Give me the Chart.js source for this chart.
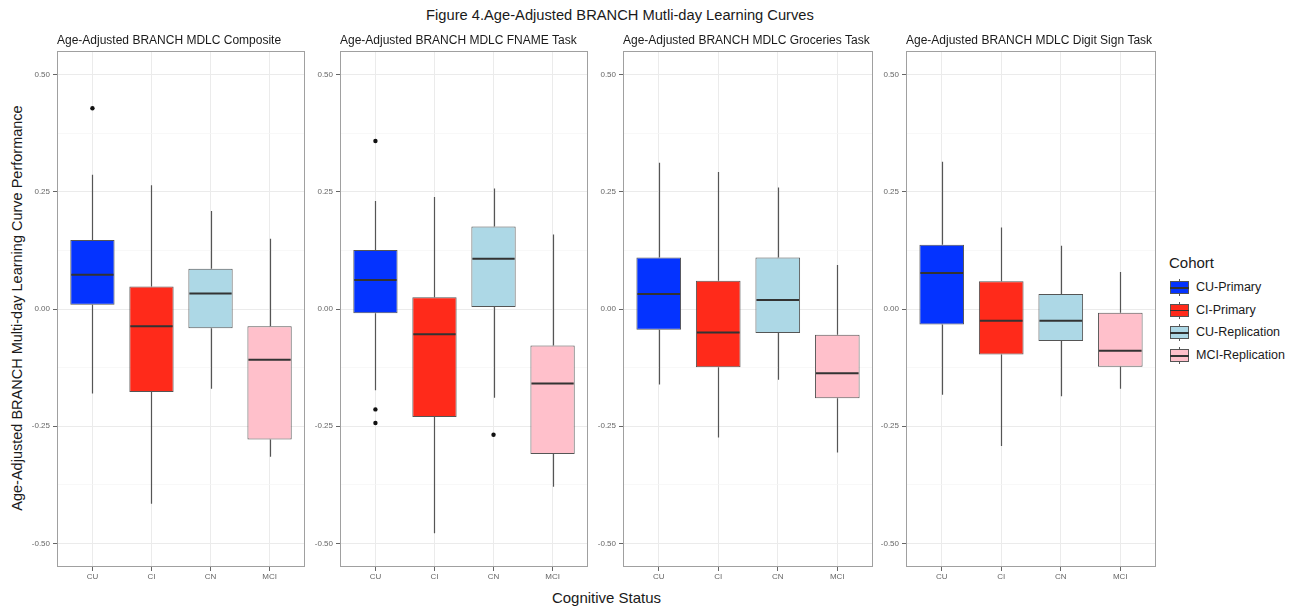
<!DOCTYPE html>
<html>
<head>
<meta charset="utf-8">
<script src="https://cdn.jsdelivr.net/npm/chart.js@4"></script>
<style>
  body { margin: 0; background: #fff; font-family: "Liberation Sans", Arial, sans-serif; }
  #page { position: relative; width: 1293px; height: 607px; overflow: hidden; }
  .panel { position: absolute; top: 30px; }
  .txt { position: absolute; color: #1a1a1a; white-space: nowrap; }
  #title { left: 0; width: 1240px; top: 7px; text-align: center; font-size: 14.7px; }
  #xtitle { left: 57px; width: 1099px; top: 589px; text-align: center; font-size: 15px; }
  #ytitle { left: 17px; top: 308px; font-size: 14.5px; transform: translate(-50%, -50%) rotate(-90deg); }
  #legend { position: absolute; left: 1169px; top: 254px; }
  #legend .head { font-size: 15px; color: #1a1a1a; margin-bottom: 6px; white-space: nowrap; }
  #legend .item { position: relative; height: 22.7px; width: 125px; font-size: 12.5px; color: #1a1a1a; }
  #legend .key { position: absolute; left: 1px; top: 2px; width: 19px; height: 17px; }
  #legend .key .box { position: absolute; left: 0; top: 2px; width: 17px; height: 11px; border: 1px solid #555; }
  #legend .key .mid { position: absolute; left: 0; top: 8px; width: 19px; height: 1.5px; background: #333; }
  #legend .key .wh { position: absolute; left: 9px; top: 0; width: 1px; height: 17px; background: #555; }
  #legend .lab { position: absolute; left: 27px; top: 3px; white-space: nowrap; }
</style>
</head>
<body>
<div id="page">
  <div id="title" class="txt">Figure 4.Age-Adjusted BRANCH Mutli-day Learning Curves</div>
  <div id="ytitle" class="txt">Age-Adjusted BRANCH Multi-day Learning Curve Performance</div>
  <div id="xtitle" class="txt">Cognitive Status</div>
  <div id="legend"></div>
</div>
<script>
const panelTitles = [
  'Age-Adjusted BRANCH MDLC Composite',
  'Age-Adjusted BRANCH MDLC FNAME Task',
  'Age-Adjusted BRANCH MDLC Groceries Task',
  'Age-Adjusted BRANCH MDLC Digit Sign Task'
];
const groups = ['CU', 'CI', 'CN', 'MCI'];
const cohorts = ['CU-Primary', 'CI-Primary', 'CU-Replication', 'MCI-Replication'];
const cohortColors = ['#0433ff', '#ff2a1a', '#add8e6', '#ffc0cb'];
const yTicks = [-0.5, -0.25, 0, 0.25, 0.5];

// one row per panel, one column per group
const whiskerHigh = [
  [0.286, 0.264, 0.209, 0.150],
  [0.230, 0.239, 0.257, 0.159],
  [0.312, 0.292, 0.259, 0.094],
  [0.314, 0.174, 0.135, 0.079]
];
const q3 = [
  [0.147, 0.048, 0.086, -0.037],
  [0.126, 0.025, 0.176, -0.078],
  [0.110, 0.060, 0.110, -0.055],
  [0.137, 0.059, 0.032, -0.008]
];
const medians = [
  [0.073, -0.037, 0.033, -0.108],
  [0.062, -0.054, 0.107, -0.159],
  [0.032, -0.050, 0.019, -0.137],
  [0.077, -0.025, -0.025, -0.089]
];
const q1 = [
  [0.009, -0.177, -0.041, -0.278],
  [-0.009, -0.230, 0.004, -0.309],
  [-0.044, -0.124, -0.051, -0.190],
  [-0.033, -0.097, -0.068, -0.123]
];
const whiskerLow = [
  [-0.180, -0.415, -0.170, -0.315],
  [-0.173, -0.478, -0.189, -0.379],
  [-0.161, -0.274, -0.151, -0.306],
  [-0.183, -0.292, -0.186, -0.170]
];
// [group index, value]
const outliers = [
  [[0, 0.428]],
  [[0, 0.358], [0, -0.214], [0, -0.243], [2, -0.268]],
  [],
  []
];

Chart.defaults.font.family = '"Liberation Sans", Arial, sans-serif';

const panelLeft = [57, 340, 623, 906];
const axisW = 45;

// whiskers behind the boxes, medians on top, then the panel frame
const boxParts = {
  id: 'boxParts',
  beforeDatasetsDraw(chart, args, opts) {
    const p = opts.panel, x = chart.scales.x, y = chart.scales.y, ctx = chart.ctx;
    ctx.save();
    ctx.strokeStyle = '#555';
    ctx.lineWidth = 1.2;
    groups.forEach((g, i) => {
      const px = Math.round(x.getPixelForValue(i + 1)) + 0.5;
      ctx.beginPath();
      ctx.moveTo(px, y.getPixelForValue(whiskerHigh[p][i]));
      ctx.lineTo(px, y.getPixelForValue(q3[p][i]));
      ctx.moveTo(px, y.getPixelForValue(q1[p][i]));
      ctx.lineTo(px, y.getPixelForValue(whiskerLow[p][i]));
      ctx.stroke();
    });
    ctx.restore();
  },
  afterDatasetsDraw(chart, args, opts) {
    const p = opts.panel, y = chart.scales.y, ctx = chart.ctx;
    const bars = chart.getDatasetMeta(0).data;
    ctx.save();
    ctx.strokeStyle = '#333';
    ctx.lineWidth = 2;
    bars.forEach((el, i) => {
      const py = y.getPixelForValue(medians[p][i]);
      ctx.beginPath();
      ctx.moveTo(el.x - el.width / 2 + 1, py);
      ctx.lineTo(el.x + el.width / 2 - 1, py);
      ctx.stroke();
    });
    ctx.restore();
  },
  afterDraw(chart) {
    const a = chart.chartArea, ctx = chart.ctx;
    ctx.save();
    ctx.strokeStyle = '#a0a0a0';
    ctx.lineWidth = 1;
    ctx.strokeRect(Math.round(a.left) + 0.5, Math.round(a.top) + 0.5,
      Math.round(a.right - a.left) - 1, Math.round(a.bottom - a.top) - 1);
    ctx.restore();
  }
};

function makePanel(p) {
  const wrap = document.createElement('div');
  wrap.className = 'panel';
  wrap.style.left = (panelLeft[p] - axisW) + 'px';
  const canvas = document.createElement('canvas');
  canvas.width = axisW + 250 + 2;
  canvas.height = 557;
  wrap.appendChild(canvas);
  document.getElementById('page').appendChild(wrap);

  const minorTicks = yTicks.slice(1).map((v, i) => (v + yTicks[i]) / 2);
  const allTicks = yTicks.concat(minorTicks).sort((a, b) => a - b);
  const isMajor = v => yTicks.some(t => Math.abs(t - v) < 1e-9);

  new Chart(canvas, {
    type: 'bar',
    data: {
      datasets: [{
        data: groups.map((g, i) => ({ x: i + 1, y: [q1[p][i], q3[p][i]] })),
        backgroundColor: cohortColors,
        borderColor: '#555',
        borderWidth: 1,
        borderSkipped: false,
        barPercentage: 0.75,
        categoryPercentage: 1
      }, {
        type: 'scatter',
        data: outliers[p].map(o => ({ x: o[0] + 1, y: o[1] })),
        backgroundColor: '#111',
        borderWidth: 0,
        pointRadius: 2.2
      }]
    },
    options: {
      responsive: false,
      animation: false,
      layout: { padding: { left: 0, right: 2, top: 0, bottom: 0 } },
      plugins: {
        legend: { display: false },
        tooltip: { enabled: false },
        title: {
          display: true,
          text: panelTitles[p],
          align: 'start',
          fullSize: false,
          color: '#1a1a1a',
          font: { size: 12, weight: 'normal' },
          padding: { top: 3, bottom: 3.6 }
        },
        boxParts: { panel: p }
      },
      scales: {
        x: {
          type: 'linear',
          min: 0.4,
          max: 4.6,
          offset: false,
          afterBuildTicks: s => { s.ticks = groups.map((g, i) => ({ value: i + 1 })); },
          afterFit: s => { s.height = 20; },
          ticks: {
            callback: v => groups[v - 1],
            color: '#666',
            font: { size: 8 },
            padding: 1,
            maxRotation: 0,
            autoSkip: false
          },
          grid: { offset: false, color: '#ebebeb', tickColor: '#666', tickLength: 4 },
          border: { display: false }
        },
        y: {
          min: -0.55,
          max: 0.55,
          afterBuildTicks: s => { s.ticks = allTicks.map(v => ({ value: v })); },
          afterFit: s => { s.width = axisW; },
          ticks: {
            callback: v => isMajor(v) ? v.toFixed(2) : '',
            color: '#666',
            font: { size: 8 },
            padding: 3,
            autoSkip: false
          },
          grid: {
            color: c => isMajor(c.tick.value) ? '#ebebeb' : '#f5f5f5',
            lineWidth: c => isMajor(c.tick.value) ? 1 : 0.7,
            tickColor: c => isMajor(c.tick.value) ? '#666' : 'rgba(0,0,0,0)',
            tickLength: 4
          },
          border: { display: false }
        }
      }
    },
    plugins: [boxParts]
  });
}

panelTitles.forEach((t, p) => makePanel(p));

// legend in the ggplot style
const legend = document.getElementById('legend');
legend.innerHTML = '<div class="head">Cohort</div>' + cohorts.map((c, i) =>
  '<div class="item"><div class="key"><div class="wh"></div><div class="box" style="background:' +
  cohortColors[i] + '"></div><div class="mid"></div></div><div class="lab">' + c + '</div></div>'
).join('');
</script>
</body>
</html>
